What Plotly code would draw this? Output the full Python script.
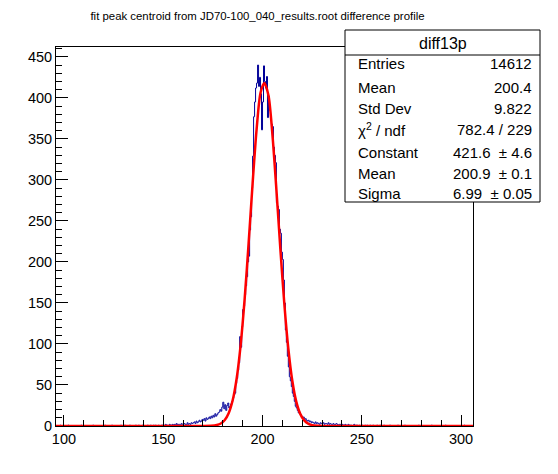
import plotly.graph_objects as go

title_text = "fit peak centroid from JD70-100_040_results.root difference profile"
hist_name = "diff13p"

x_low = 96.0
x_high = 306.0
bin_width = 0.5
y_max = 462

# bin contents (0.5 wide bins)
counts_096_150 = [0, 0, 0, 0, 1, 0, 0, 0, 0, 0, 0, 0, 1, 0, 0, 0, 0, 0, 0, 0,
                  0, 0, 0, 0, 0, 1, 0, 0, 0, 0, 0, 0, 0, 0, 0, 0, 0, 1, 0, 0,
                  0, 0, 0, 0, 0, 0, 0, 0, 0, 1, 0, 0, 0, 0, 0, 0, 1, 0, 0, 0,
                  0, 0, 0, 0, 0, 1, 0, 0, 0, 1, 0, 0, 0, 0, 1, 0, 0, 0, 0, 0,
                  1, 0, 0, 1, 0, 0, 0, 1, 0, 0, 0, 0, 1, 0, 0, 1, 0, 0, 1, 0,
                  1, 0, 0, 1, 0, 0, 1, 1]
counts_150_165 = [1, 0, 2, 1, 1, 0, 2, 1, 1, 2, 1, 2, 1, 3, 1, 2, 2, 1, 3, 2,
                  2, 3, 2, 1, 4, 2, 3, 2, 4, 3]
counts_165_178 = [4, 5, 3, 6, 4, 5, 7, 5, 6, 8, 7, 9, 6, 10, 8, 9, 11, 9, 12, 10,
                  13, 11, 15, 12, 14, 16]
counts_178_186 = [17, 20, 18, 23, 29, 21, 26, 19, 25, 28, 22, 24, 27, 30, 34, 38]
counts_186_200 = [40, 52, 58, 68, 77, 109, 96, 121, 142, 146, 160, 171, 182, 200,
                  207, 239, 255, 290, 329, 377, 395, 412, 418, 440, 414, 425, 405, 361]
counts_200_230 = [395, 439, 420, 412, 426, 376, 402, 385, 377, 368, 365, 340, 330, 321,
                  272, 268, 264, 240, 235, 212, 203, 178, 150, 117, 102, 85, 72, 60,
                  55, 48, 40, 36, 30, 24, 22, 19, 16, 17, 14, 12, 10, 11, 8, 9, 7,
                  6, 7, 5, 6, 4, 5, 4, 3, 5, 3, 4, 3, 2, 4, 3]
counts_230_260 = [3, 4, 2, 3, 3, 2, 4, 2, 3, 2, 2, 3, 1, 2, 3, 2, 1, 2, 2, 1,
                  2, 1, 1, 2, 1, 0, 2, 1, 1, 1, 0, 1, 2, 0, 1, 1, 0, 1, 0, 1,
                  1, 0, 0, 1, 0, 1, 0, 0, 1, 0, 0, 1, 0, 0, 0, 1, 0, 0, 1, 0]
counts_260_306 = [0, 0, 1, 0, 0, 0, 0, 0, 1, 0, 0, 0, 0, 0, 0, 0, 1, 0, 0, 0,
                  0, 0, 0, 1, 0, 0, 0, 0, 0, 0, 0, 0, 0, 0, 0, 0, 0, 1, 0, 0,
                  0, 0, 0, 0, 0, 0, 0, 0, 0, 0, 1, 0, 0, 0, 0, 0, 0, 0, 0, 0,
                  0, 0, 0, 0, 1, 0, 0, 0, 0, 0, 0, 0, 0, 0, 0, 0, 0, 0, 0, 0,
                  0, 0, 0, 1, 0, 0, 0, 0, 0, 0, 0, 0]

counts = (counts_096_150 + counts_150_165 + counts_165_178 + counts_178_186 +
          counts_186_200 + counts_200_230 + counts_230_260 + counts_260_306)
centers = [x_low + bin_width * (i + 0.5) for i in range(len(counts))]

# red fit curve
fit_x = [96, 165, 170, 174, 177, 179, 181, 183, 185, 187, 189, 191, 193, 195, 197, 199,
         200.9, 203, 205, 207, 209, 211, 213, 215, 217, 219, 221, 223, 225, 228, 232, 306]
fit_y = [0, 0, 0.02, 0.26, 1.2, 3.1, 7.3, 15.9, 31.7, 58.4, 99, 154.6, 222.6, 295.2, 360.9, 406.3,
         418, 403, 355, 288, 215.4, 148.4, 94.3, 55.1, 29.7, 14.8, 6.8, 2.8, 1.1, 0.23, 0.02, 0]

stat_labels = ["Entries", "Mean", "Std Dev", "χ<sup>2</sup> / ndf", "Constant", "Mean", "Sigma"]
stat_values = ["14612", "200.4", "9.822", "782.4 / 229", "421.6\u00a0 ± 4.6", "200.9\u00a0 ± 0.1",
               "6.99\u00a0 ± 0.05"]

# the page puts the figure 8px in from the top-left corner
OFF = 8
W, H = 558 - OFF, 474 - OFF
L, R, T, B = 56 - OFF, 473 - OFF, 47 - OFF, 426 - OFF  # frame in pixels of the figure


def px(x):
    return (x - OFF - L) / (R - L)


def py(y):
    return (B - (y - OFF)) / (B - T)


fig = go.Figure()
fig.add_trace(go.Scatter(x=centers, y=counts, mode="lines", line=dict(color="#000099", width=1, shape="hvh"),
                         hoverinfo="skip"))
fig.add_trace(go.Scatter(x=fit_x, y=fit_y, mode="lines",
                         line=dict(color="#ff0000", width=2.5, shape="spline", smoothing=0.8),
                         hoverinfo="skip"))

axis_common = dict(showgrid=False, zeroline=False, showline=True, linecolor="black", linewidth=1,
                   mirror=True, ticks="inside", tickcolor="black",
                   tickfont=dict(family="Liberation Sans", size=14.5, color="black"))
fig.update_xaxes(range=[x_low, x_high], tick0=100, dtick=50, ticklen=11,
                 minor=dict(dtick=10, tick0=100, ticks="inside", ticklen=6, tickcolor="black"),
                 **axis_common)
fig.update_yaxes(range=[0, y_max], tick0=0, dtick=50, ticklen=12,
                 minor=dict(dtick=10, tick0=0, ticks="inside", ticklen=6, tickcolor="black"),
                 **axis_common)

# stats box (page pixel positions)
box_l, box_r, box_t, box_b, box_sep = 345, 540, 30, 202, 55
fig.add_shape(type="rect", xref="paper", yref="paper", x0=px(box_l), x1=px(box_r), y0=py(box_b), y1=py(box_t),
              fillcolor="white", line=dict(color="black", width=1), layer="above")
fig.add_shape(type="line", xref="paper", yref="paper", x0=px(box_l), x1=px(box_r), y0=py(box_sep), y1=py(box_sep),
              line=dict(color="black", width=1), layer="above")
fig.add_annotation(text=hist_name, xref="paper", yref="paper", x=px((box_l + box_r) / 2), y=py(43),
                   xanchor="center", yanchor="middle", showarrow=False,
                   font=dict(family="Liberation Sans", size=16, color="black"))
row_y = [64, 87, 108, 130, 152, 173, 193]
for lab, val, yy in zip(stat_labels, stat_values, row_y):
    fig.add_annotation(text=lab, xref="paper", yref="paper", x=px(356), y=py(yy), xanchor="left",
                       yanchor="middle", showarrow=False,
                       font=dict(family="Liberation Sans", size=15, color="black"))
    fig.add_annotation(text=val, xref="paper", yref="paper", x=px(534), y=py(yy), xanchor="right",
                       yanchor="middle", showarrow=False,
                       font=dict(family="Liberation Sans", size=15, color="black"))

fig.update_layout(
    width=W, height=H,
    margin=dict(l=L, r=W - R, t=T, b=H - B),
    paper_bgcolor="white", plot_bgcolor="white",
    showlegend=False,
    title=dict(text=title_text, x=(257.5 - OFF) / W, xanchor="center", y=1 - (16 - OFF) / H, yanchor="middle",
               font=dict(family="Liberation Sans", size=11.4, color="black")),
)

fig.write_html("out.html")
